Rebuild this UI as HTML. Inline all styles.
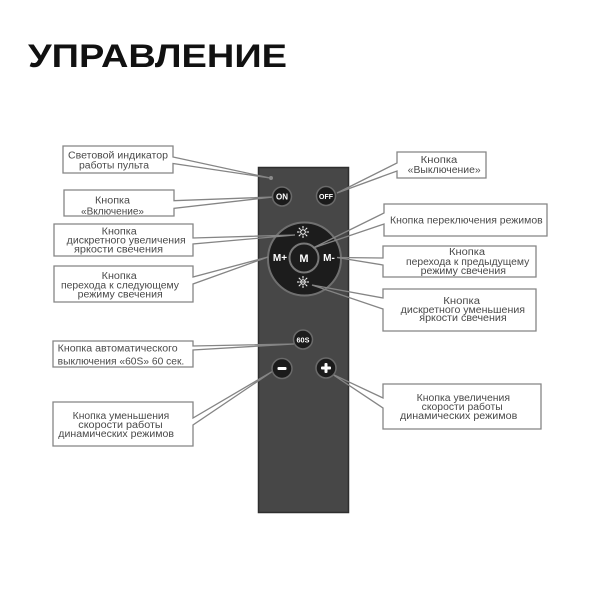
<!DOCTYPE html>
<html><head><meta charset="utf-8"><style>
html,body{margin:0;padding:0;background:#fff;}
svg{display:block;}
text{font-family:"Liberation Sans","DejaVu Sans",sans-serif;}
.t{font-size:10px;fill:#4a4a4a;}
.b{fill:#fff;}
.c{fill:none;stroke:#858585;stroke-width:1.3;stroke-linejoin:miter;}
.btn{fill:#1b1b1b;stroke:#6a6a6a;stroke-width:1.5;}
.w{fill:#fff;font-weight:bold;text-anchor:middle;}
</style></head><body>
<svg width="600" height="600" viewBox="0 0 600 600" xmlns="http://www.w3.org/2000/svg">
<rect width="600" height="600" fill="#fff"/>
<text x="28" y="67" font-size="32" font-weight="bold" fill="#111" textLength="259" lengthAdjust="spacingAndGlyphs">УПРАВЛЕНИЕ</text>

<!-- remote -->
<rect x="258.5" y="167.5" width="90" height="345" fill="#474747" stroke="#2e2e2e" stroke-width="1.5"/>
<circle cx="271" cy="178" r="2" fill="#8a8a8a"/>

<!-- pad -->
<circle cx="304.5" cy="259" r="36.5" fill="#1c1c1c" stroke="#707070" stroke-width="2"/>
<circle cx="304" cy="258" r="14.5" fill="#1c1c1c" stroke="#787878" stroke-width="2"/>
<text x="304" y="262" class="w" font-size="11">M</text>
<text x="280" y="261" class="w" font-size="10">M+</text>
<text x="329" y="261" class="w" font-size="10">M-</text>
<g stroke="#fff" stroke-width="1" fill="none">
  <circle cx="303" cy="232" r="2.3"/>
  <path d="M303 226v2.5M303 235.5v2.5M297 232h2.5M306.5 232h2.5M298.8 227.8l1.8 1.8M305.4 234.4l1.8 1.8M298.8 236.2l1.8-1.8M305.4 229.6l1.8-1.8"/>
  <circle cx="303" cy="282" r="2.3"/>
  <path d="M303 276v2.5M303 285.5v2.5M297 282h2.5M306.5 282h2.5M298.8 277.8l1.8 1.8M305.4 284.4l1.8 1.8M298.8 286.2l1.8-1.8M305.4 279.6l1.8-1.8M301 282h4"/>
</g>

<!-- callouts left -->
<rect x="63" y="146" width="110" height="27" class="b"/>
<path class="c" d="M173 163.5 L173 173 L63 173 L63 146 L173 146 L173 157 L270 178 Z"/>
<text class="t" x="68" y="158.5" textLength="100" lengthAdjust="spacingAndGlyphs">Световой индикатор</text>
<text class="t" x="79" y="168.5" textLength="70" lengthAdjust="spacingAndGlyphs">работы пульта</text>

<rect x="64" y="190" width="110" height="26" class="b"/>
<path class="c" d="M174 208.3 L174 216 L64 216 L64 190 L174 190 L174 200.7 L273 197 Z"/>
<text class="t" x="95" y="203.5" textLength="35" lengthAdjust="spacingAndGlyphs">Кнопка</text>
<text class="t" x="81" y="214.5" textLength="63" lengthAdjust="spacingAndGlyphs">«Включение»</text>

<rect x="54" y="224" width="139" height="32" class="b"/>
<path class="c" d="M193 244 L193 256 L54 256 L54 224 L193 224 L193 238 L295 235 Z"/>
<text class="t" x="101.7" y="234.5" textLength="35" lengthAdjust="spacingAndGlyphs">Кнопка</text>
<text class="t" x="66.7" y="243.5" textLength="119" lengthAdjust="spacingAndGlyphs">дискретного увеличения</text>
<text class="t" x="74" y="252.5" textLength="89" lengthAdjust="spacingAndGlyphs">яркости свечения</text>

<rect x="54" y="266" width="139" height="36" class="b"/>
<path class="c" d="M193 284 L193 302 L54 302 L54 266 L193 266 L193 277 L268 257 Z"/>
<text class="t" x="101.7" y="279" textLength="35" lengthAdjust="spacingAndGlyphs">Кнопка</text>
<text class="t" x="61" y="288.5" textLength="118" lengthAdjust="spacingAndGlyphs">перехода к следующему</text>
<text class="t" x="77.7" y="297.5" textLength="85" lengthAdjust="spacingAndGlyphs">режиму свечения</text>

<rect x="53" y="341" width="140" height="26" class="b"/>
<path class="c" d="M193 350 L193 367 L53 367 L53 341 L193 341 L193 346 L294 344 Z"/>
<text class="t" x="57.7" y="351.5" textLength="120" lengthAdjust="spacingAndGlyphs">Кнопка автоматического</text>
<text class="t" x="57.7" y="364.5" textLength="126.6" lengthAdjust="spacingAndGlyphs">выключения «60S» 60 сек.</text>

<rect x="53" y="402" width="140" height="44" class="b"/>
<path class="c" d="M193 425 L193 446 L53 446 L53 402 L193 402 L193 418 L273 371 Z"/>
<text class="t" x="72.7" y="419" textLength="96.6" lengthAdjust="spacingAndGlyphs">Кнопка уменьшения</text>
<text class="t" x="78.3" y="428" textLength="84.4" lengthAdjust="spacingAndGlyphs">скорости работы</text>
<text class="t" x="58.3" y="437" textLength="115.7" lengthAdjust="spacingAndGlyphs">динамических режимов</text>

<!-- callouts right -->
<rect x="397" y="152" width="89" height="26" class="b"/>
<path class="c" d="M397 171 L397 178 L486 178 L486 152 L397 152 L397 163 L337 193 Z"/>
<text class="t" x="420.7" y="163" textLength="36.6" lengthAdjust="spacingAndGlyphs">Кнопка</text>
<text class="t" x="407.7" y="173" textLength="73" lengthAdjust="spacingAndGlyphs">«Выключение»</text>

<rect x="384" y="204" width="163" height="32" class="b"/>
<path class="c" d="M384 224 L384 236 L547 236 L547 204 L384 204 L384 213 L313 248 Z"/>
<text class="t" x="390" y="223.5" textLength="152.7" lengthAdjust="spacingAndGlyphs">Кнопка переключения режимов</text>

<rect x="383" y="246" width="153" height="31" class="b"/>
<path class="c" d="M383 265 L383 277 L536 277 L536 246 L383 246 L383 258 L337 257.5 Z"/>
<text class="t" x="449" y="255" textLength="36" lengthAdjust="spacingAndGlyphs">Кнопка</text>
<text class="t" x="406" y="265" textLength="123.3" lengthAdjust="spacingAndGlyphs">перехода к предыдущему</text>
<text class="t" x="420.7" y="274" textLength="85.3" lengthAdjust="spacingAndGlyphs">режиму свечения</text>

<rect x="383" y="289" width="153" height="42" class="b"/>
<path class="c" d="M383 309 L383 331 L536 331 L536 289 L383 289 L383 298 L312 285 Z"/>
<text class="t" x="443.3" y="304" textLength="36.7" lengthAdjust="spacingAndGlyphs">Кнопка</text>
<text class="t" x="400.7" y="313" textLength="124.3" lengthAdjust="spacingAndGlyphs">дискретного уменьшения</text>
<text class="t" x="419.3" y="321" textLength="87.4" lengthAdjust="spacingAndGlyphs">яркости свечения</text>

<rect x="383" y="384" width="158" height="45" class="b"/>
<path class="c" d="M383 408 L383 429 L541 429 L541 384 L383 384 L383 398 L332 374 Z"/>
<text class="t" x="416.7" y="401" textLength="93.3" lengthAdjust="spacingAndGlyphs">Кнопка увеличения</text>
<text class="t" x="421.7" y="410" textLength="81" lengthAdjust="spacingAndGlyphs">скорости работы</text>
<text class="t" x="400" y="419" textLength="117.3" lengthAdjust="spacingAndGlyphs">динамических режимов</text>

<!-- buttons -->
<circle cx="282" cy="196.5" r="9.5" class="btn"/>
<text x="282" y="199.5" class="w" font-size="8">ON</text>
<circle cx="326" cy="196" r="9.5" class="btn"/>
<text x="326" y="199" class="w" font-size="7.5" textLength="14" lengthAdjust="spacingAndGlyphs">OFF</text>
<circle cx="303" cy="339.5" r="9.5" class="btn"/>
<text x="303" y="342.3" class="w" font-size="7.5" textLength="13" lengthAdjust="spacingAndGlyphs">60S</text>
<circle cx="282" cy="368.5" r="10" class="btn"/>
<rect x="277.5" y="367" width="9" height="3" rx="1" fill="#fff"/>
<circle cx="326" cy="368" r="10" class="btn"/>
<rect x="321" y="366.5" width="10" height="3" rx="1" fill="#fff"/>
<rect x="324.5" y="363" width="3" height="10" rx="1" fill="#fff"/>
</svg>
</body></html>
